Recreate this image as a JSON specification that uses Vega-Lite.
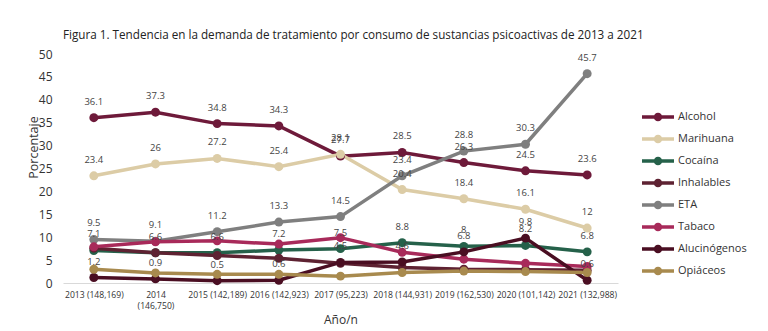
{
  "$schema": "https://vega.github.io/schema/vega-lite/v6.json",
  "width": 555,
  "height": 229,
  "autosize": {"type": "none"},
  "padding": {"left": 63, "top": 54, "right": 150, "bottom": 48},
  "background": "white",
  "config": {"font": "Open Sans", "view": {"stroke": null}},
  "title": {
    "text": "Figura 1. Tendencia en la demanda de  tratamiento por consumo de sustancias psicoactivas de 2013 a 2021",
    "anchor": "start",
    "frame": "group",
    "fontSize": 11.7,
    "fontWeight": "normal",
    "color": "#222",
    "offset": 6
  },
  "data": {
    "values": [
      {"serie": "Alcohol", "anio": "2013 (148,169)", "valor": 36.1},
      {"serie": "Alcohol", "anio": "2014 (146,750)", "valor": 37.3},
      {"serie": "Alcohol", "anio": "2015 (142,189)", "valor": 34.8},
      {"serie": "Alcohol", "anio": "2016 (142,923)", "valor": 34.3},
      {"serie": "Alcohol", "anio": "2017 (95,223)", "valor": 27.7},
      {"serie": "Alcohol", "anio": "2018 (144,931)", "valor": 28.5},
      {"serie": "Alcohol", "anio": "2019 (162,530)", "valor": 26.3},
      {"serie": "Alcohol", "anio": "2020 (101,142)", "valor": 24.5},
      {"serie": "Alcohol", "anio": "2021 (132,988)", "valor": 23.6},
      {"serie": "Marihuana", "anio": "2013 (148,169)", "valor": 23.4},
      {"serie": "Marihuana", "anio": "2014 (146,750)", "valor": 26},
      {"serie": "Marihuana", "anio": "2015 (142,189)", "valor": 27.2},
      {"serie": "Marihuana", "anio": "2016 (142,923)", "valor": 25.4},
      {"serie": "Marihuana", "anio": "2017 (95,223)", "valor": 28.1},
      {"serie": "Marihuana", "anio": "2018 (144,931)", "valor": 20.4},
      {"serie": "Marihuana", "anio": "2019 (162,530)", "valor": 18.4},
      {"serie": "Marihuana", "anio": "2020 (101,142)", "valor": 16.1},
      {"serie": "Marihuana", "anio": "2021 (132,988)", "valor": 12},
      {"serie": "Cocaína", "anio": "2013 (148,169)", "valor": 7.1},
      {"serie": "Cocaína", "anio": "2014 (146,750)", "valor": 6.6},
      {"serie": "Cocaína", "anio": "2015 (142,189)", "valor": 6.6},
      {"serie": "Cocaína", "anio": "2016 (142,923)", "valor": 7.2},
      {"serie": "Cocaína", "anio": "2017 (95,223)", "valor": 7.5},
      {"serie": "Cocaína", "anio": "2018 (144,931)", "valor": 8.8},
      {"serie": "Cocaína", "anio": "2019 (162,530)", "valor": 8},
      {"serie": "Cocaína", "anio": "2020 (101,142)", "valor": 8.2},
      {"serie": "Cocaína", "anio": "2021 (132,988)", "valor": 6.8},
      {"serie": "Inhalables", "anio": "2013 (148,169)", "valor": 7.6},
      {"serie": "Inhalables", "anio": "2014 (146,750)", "valor": 6.6},
      {"serie": "Inhalables", "anio": "2015 (142,189)", "valor": 6.0},
      {"serie": "Inhalables", "anio": "2016 (142,923)", "valor": 5.4},
      {"serie": "Inhalables", "anio": "2017 (95,223)", "valor": 4.3},
      {"serie": "Inhalables", "anio": "2018 (144,931)", "valor": 3.4},
      {"serie": "Inhalables", "anio": "2019 (162,530)", "valor": 3.0},
      {"serie": "Inhalables", "anio": "2020 (101,142)", "valor": 2.9},
      {"serie": "Inhalables", "anio": "2021 (132,988)", "valor": 2.8},
      {"serie": "ETA", "anio": "2013 (148,169)", "valor": 9.5},
      {"serie": "ETA", "anio": "2014 (146,750)", "valor": 9.1},
      {"serie": "ETA", "anio": "2015 (142,189)", "valor": 11.2},
      {"serie": "ETA", "anio": "2016 (142,923)", "valor": 13.3},
      {"serie": "ETA", "anio": "2017 (95,223)", "valor": 14.5},
      {"serie": "ETA", "anio": "2018 (144,931)", "valor": 23.4},
      {"serie": "ETA", "anio": "2019 (162,530)", "valor": 28.8},
      {"serie": "ETA", "anio": "2020 (101,142)", "valor": 30.3},
      {"serie": "ETA", "anio": "2021 (132,988)", "valor": 45.7},
      {"serie": "Tabaco", "anio": "2013 (148,169)", "valor": 7.9},
      {"serie": "Tabaco", "anio": "2014 (146,750)", "valor": 9.0},
      {"serie": "Tabaco", "anio": "2015 (142,189)", "valor": 9.2},
      {"serie": "Tabaco", "anio": "2016 (142,923)", "valor": 8.5},
      {"serie": "Tabaco", "anio": "2017 (95,223)", "valor": 9.9},
      {"serie": "Tabaco", "anio": "2018 (144,931)", "valor": 6.7},
      {"serie": "Tabaco", "anio": "2019 (162,530)", "valor": 5.2},
      {"serie": "Tabaco", "anio": "2020 (101,142)", "valor": 4.3},
      {"serie": "Tabaco", "anio": "2021 (132,988)", "valor": 3.6},
      {"serie": "Alucinógenos", "anio": "2013 (148,169)", "valor": 1.2},
      {"serie": "Alucinógenos", "anio": "2014 (146,750)", "valor": 0.9},
      {"serie": "Alucinógenos", "anio": "2015 (142,189)", "valor": 0.5},
      {"serie": "Alucinógenos", "anio": "2016 (142,923)", "valor": 0.6},
      {"serie": "Alucinógenos", "anio": "2017 (95,223)", "valor": 4.5},
      {"serie": "Alucinógenos", "anio": "2018 (144,931)", "valor": 4.6},
      {"serie": "Alucinógenos", "anio": "2019 (162,530)", "valor": 6.8},
      {"serie": "Alucinógenos", "anio": "2020 (101,142)", "valor": 9.8},
      {"serie": "Alucinógenos", "anio": "2021 (132,988)", "valor": 0.6},
      {"serie": "Opiáceos", "anio": "2013 (148,169)", "valor": 3.0},
      {"serie": "Opiáceos", "anio": "2014 (146,750)", "valor": 2.2},
      {"serie": "Opiáceos", "anio": "2015 (142,189)", "valor": 1.9},
      {"serie": "Opiáceos", "anio": "2016 (142,923)", "valor": 1.9},
      {"serie": "Opiáceos", "anio": "2017 (95,223)", "valor": 1.5},
      {"serie": "Opiáceos", "anio": "2018 (144,931)", "valor": 2.3},
      {"serie": "Opiáceos", "anio": "2019 (162,530)", "valor": 2.6},
      {"serie": "Opiáceos", "anio": "2020 (101,142)", "valor": 2.5},
      {"serie": "Opiáceos", "anio": "2021 (132,988)", "valor": 2.3}
    ]
  },
  "encoding": {
    "x": {
      "field": "anio",
      "type": "ordinal",
      "sort": null,
      "scale": {"type": "point", "padding": 0.5},
      "axis": {
        "title": "Año/n",
        "labelAngle": 0,
        "domainColor": "#d9d9d9",
        "ticks": false,
        "labelFontSize": 8.6,
        "labelColor": "#333",
        "labelPadding": 7,
        "labelLineHeight": 11,
        "labelExpr": "datum.label == '2014 (146,750)' ? ['2014', '(146,750)'] : datum.label",
        "titleFontSize": 12,
        "titleFontWeight": "normal",
        "titleColor": "#333",
        "titlePadding": 5
      }
    },
    "y": {
      "field": "valor",
      "type": "quantitative",
      "scale": {"domain": [0, 50]},
      "axis": {
        "title": "Porcentaje",
        "values": [0, 5, 10, 15, 20, 25, 30, 35, 40, 45, 50],
        "grid": false,
        "domain": false,
        "ticks": false,
        "labelFontSize": 12,
        "labelColor": "#333",
        "labelPadding": 11,
        "titleFontSize": 12.5,
        "titleFontWeight": "normal",
        "titleColor": "#333",
        "titleX": -30,
        "titleY": 93,
        "titleBaseline": "middle"
      }
    },
    "color": {
      "field": "serie",
      "type": "nominal",
      "scale": {
        "domain": ["Alcohol", "Marihuana", "Cocaína", "Inhalables", "ETA", "Tabaco", "Alucinógenos", "Opiáceos"],
        "range": ["#6e1a3a", "#dccca6", "#25614a", "#5e2232", "#7f7f7f", "#a82a5a", "#4a0e22", "#a88a4e"]
      },
      "legend": {
        "orient": "none",
        "legendX": 588,
        "legendY": 56,
        "title": null,
        "symbolType": "M-3.2,0L3.2,0M-0.5,0A0.5,0.5,0,1,0,0.5,0A0.5,0.5,0,1,0,-0.5,0",
        "symbolSize": 100,
        "symbolStrokeWidth": 3.5,
        "labelFontSize": 11,
        "labelColor": "#333",
        "labelOffset": 13,
        "rowPadding": 2
      }
    }
  },
  "layer": [
    {"mark": {"type": "line", "strokeWidth": 3.5}},
    {"mark": {"type": "point", "filled": true, "size": 80, "opacity": 1}},
    {
      "transform": [{"filter": "indexof(['Alcohol', 'Marihuana', 'Cocaína', 'ETA', 'Alucinógenos'], datum.serie) >= 0"}],
      "mark": {"type": "text", "dy": -16, "fontSize": 9.5, "color": "#444"},
      "encoding": {"text": {"field": "valor", "type": "nominal"}, "color": {"value": "#444"}}
    }
  ]
}
